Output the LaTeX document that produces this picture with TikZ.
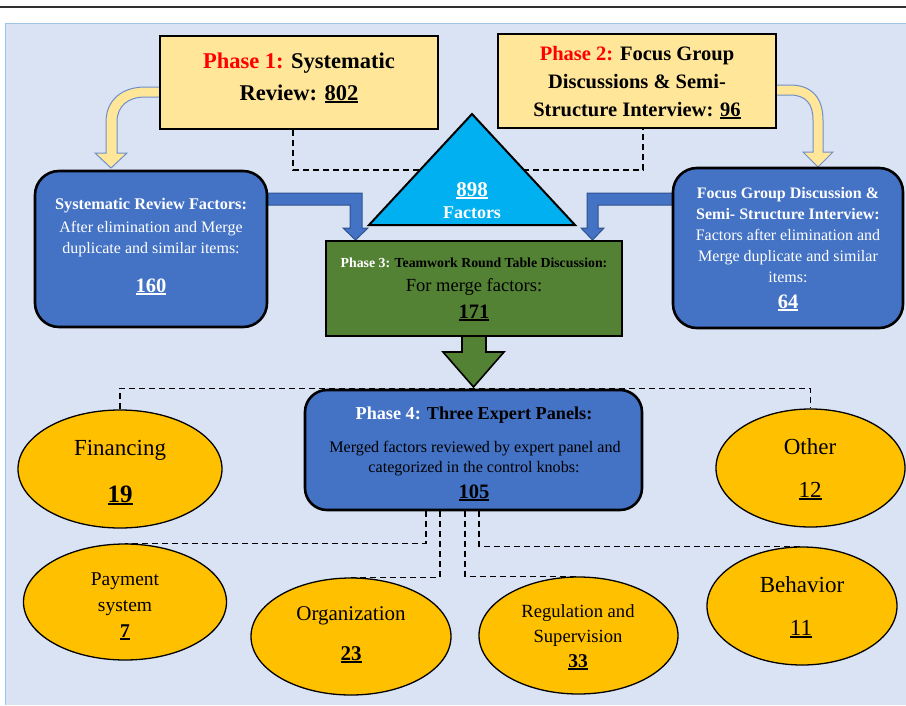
\documentclass[tikz,border=0pt]{standalone}
\usepackage{fontspec}
\setmainfont{Liberation Serif}
\usetikzlibrary{shapes.geometric}
\definecolor{bgc}{HTML}{DAE3F3}
\definecolor{panelline}{HTML}{9DC3E6}
\definecolor{yel}{HTML}{FFE699}
\definecolor{yelline}{HTML}{6F8FC9}
\definecolor{blu}{HTML}{4472C4}
\definecolor{bluline}{HTML}{2F528F}
\definecolor{cyanc}{HTML}{00B0F0}
\definecolor{grn}{HTML}{548235}
\definecolor{org}{HTML}{FFC000}
\definecolor{topline}{HTML}{303030}
\newcommand{\uln}[1]{\setbox0=\hbox{#1}\leavevmode\rlap{\rule[-0.13em]{\wd0}{0.075em}}\box0}
\newcommand{\fs}[1]{\fontsize{#1}{#1}\selectfont}
\pgfdeclarelayer{bgpanel}
\pgfdeclarelayer{bglines}
\pgfsetlayers{bgpanel,bglines,main}
\begin{document}
\begin{tikzpicture}[x=1pt,y=-1pt,
  ybox/.style={draw=black, line width=1.4pt, fill=yel, inner sep=0pt},
  rbox/.style={draw=black, line width=2.6pt, fill=blu, rounded corners=24pt, inner sep=0pt},
  gbox/.style={draw=black, line width=2.4pt, fill=grn, inner sep=0pt},
  oval/.style={ellipse, draw=black, line width=1.3pt, fill=org, inner sep=0pt},
  tl/.style={anchor=base, inner sep=0pt, outer sep=0pt},
  dline/.style={draw=black, line width=1.6pt, dash pattern=on 6pt off 4pt},
  yarrow/.style={fill=yel, draw=yelline, line width=1pt},
  barrow/.style={fill=blu, draw=bluline, line width=1pt, line join=miter},
  garrow/.style={fill=grn, draw=black, line width=1.6pt, line join=miter}
]
\useasboundingbox (0,0) rectangle (906,705);
\begin{pgfonlayer}{bgpanel}
  \fill[bgc] (5,23) rectangle (906,705);
  \draw[panelline, line width=1pt] (5,705) -- (5,23) -- (906,23);
  \draw[topline, line width=2pt] (0,7) -- (906,7);
\end{pgfonlayer}

% block arrows
\draw[yarrow] (165,87) -- (145,87) .. controls (122,87) and (106,100) .. (106,122) -- (106,153) -- (95,153) -- (111,168) -- (127,153) -- (117,153) -- (117,122) .. controls (117,106) and (128,97) .. (145,97) -- (165,97) -- cycle;
\draw[yarrow] (770,85) -- (790,85) .. controls (812,85) and (823,98) .. (823,120) -- (823,152) -- (833,152) -- (818,167) -- (803,152) -- (813,152) -- (813,120) .. controls (813,104) and (806,95) .. (790,95) -- (770,95) -- cycle;
\draw[barrow] (258,193) -- (362,193) -- (362,228) -- (368,228) -- (355.5,240) -- (343,228) -- (350,228) -- (350,205) -- (258,205) -- cycle;
\draw[barrow] (682,193) -- (587,193) -- (587,228) -- (581,228) -- (592.5,240) -- (604,228) -- (598,228) -- (598,205) -- (682,205) -- cycle;
\draw[garrow] (462,330) -- (462,352) -- (443,352) -- (473.5,387) -- (504,352) -- (486,352) -- (486,330);

% boxes
\node[ybox, minimum width=278pt, minimum height=93pt] (p1) at (299,82.5) {};
\node[ybox, minimum width=278pt, minimum height=94pt] (p2) at (637,81) {};
\draw[fill=cyanc, line width=2pt, line join=miter] (472,114) -- (575,225) -- (369,225) -- cycle;
\node[rbox, minimum width=232pt, minimum height=156pt] (sr) at (151,249) {};
\node[rbox, minimum width=230pt, minimum height=160pt] (fg) at (788,248) {};
\node[gbox, minimum width=296pt, minimum height=95pt] (p3) at (474,288.5) {};
\node[rbox, rounded corners=22pt, minimum width=337pt, minimum height=120pt] (p4) at (473.5,450) {};

\node[oval, minimum width=204pt, minimum height=118pt] (fin) at (120,469) {};
\node[oval, minimum width=189pt, minimum height=118pt] (oth) at (810.5,468) {};
\node[oval, minimum width=203pt, minimum height=116pt] (pay) at (125,602) {};
\node[oval, minimum width=200pt, minimum height=117pt] (orgn) at (351,636.5) {};
\node[oval, minimum width=199pt, minimum height=117pt] (reg) at (578.5,635.5) {};
\node[oval, minimum width=190pt, minimum height=118pt] (beh) at (802,606) {};

% dashed connectors
\begin{pgfonlayer}{bglines}
  \draw[dline] (p1.south -| 293,0) -- ++(0,40) -| (p2.south -| 643,0);
  \draw[dline] (fin.north) -- ++(0,-21) -| (oth.north);
  \draw[dline] (p4.south -| 426,0) |- (pay.north);
  \draw[dline] (p4.south -| 440,0) |- (orgn.north);
  \draw[dline] (p4.south -| 465,0) |- (reg.north);
  \draw[dline] (p4.south -| 479,0) |- (beh.north);
\end{pgfonlayer}

% texts
\node[tl, font=\fs{22.5}\bfseries] (p1a) at (299,68) {{\color{red}Phase 1:} Systematic};
\node[tl, font=\fs{22.5}\bfseries] (p1b) at (299,100) {Review: \uln{802}};

\node[tl, font=\fs{20.5}\bfseries] (p2a) at (637,60) {{\color{red}Phase 2:} Focus Group};
\node[tl, font=\fs{20.5}\bfseries] (p2b) at (637,88) {Discussions \& Semi-};
\node[tl, font=\fs{20.5}\bfseries] (p2c) at (637,116) {Structure Interview: \uln{96}};

\node[tl, font=\fs{21}\bfseries, white] (tra) at (472,196) {\uln{898}};
\node[tl, font=\fs{18}\bfseries, white] (trb) at (472,218) {Factors};

\node[tl, font=\fs{16.3}\bfseries, white] (sra) at (151,209) {Systematic Review Factors:};
\node[tl, font=\fs{16}, white] (srb) at (151,232) {After elimination and Merge};
\node[tl, font=\fs{16}, white] (src) at (151,253) {duplicate and similar items:};
\node[tl, font=\fs{20.5}\bfseries, white] (srd) at (151,292) {\uln{160}};

\node[tl, font=\fs{16}\bfseries, white] (fga) at (788,198) {Focus Group Discussion \&};
\node[tl, font=\fs{16}\bfseries, white] (fgb) at (788,219) {Semi- Structure Interview:};
\node[tl, font=\fs{16}, white] (fgc) at (788,240) {Factors after elimination and};
\node[tl, font=\fs{16}, white] (fgd) at (788,261) {Merge duplicate and similar};
\node[tl, font=\fs{16}, white] (fge) at (788,282) {items:};
\node[tl, font=\fs{20.5}\bfseries, white] (fgf) at (788,308) {\uln{64}};

\node[tl, font=\fs{13.8}\bfseries] (p3a) at (474,267) {{\color{white}Phase 3:} Teamwork Round Table Discussion:};
\node[tl, font=\fs{18.5}] (p3b) at (474,291) {For merge factors:};
\node[tl, font=\fs{20.5}\bfseries] (p3c) at (474,318) {\uln{171}};

\node[tl, font=\fs{18.2}\bfseries] (p4a) at (474,419) {{\color{white}Phase 4:} Three Expert Panels:};
\node[tl, font=\fs{16.1}] (p4b) at (475,452) {Merged factors reviewed by expert panel and};
\node[tl, font=\fs{16.1}] (p4c) at (474,472) {categorized in the control knobs:};
\node[tl, font=\fs{20.5}\bfseries] (p4d) at (474,498) {\uln{105}};

\node[tl, font=\fs{23}] (fina) at (120,455) {Financing};
\node[tl, font=\fs{25}\bfseries] (finb) at (120,502) {\uln{19}};
\node[tl, font=\fs{23}] (otha) at (810,454) {Other};
\node[tl, font=\fs{23}] (othb) at (810,497) {\uln{12}};
\node[tl, font=\fs{19.5}] (paya) at (125,585) {Payment};
\node[tl, font=\fs{19.5}] (payb) at (125,611) {system};
\node[tl, font=\fs{19.5}\bfseries] (payc) at (125,637) {\uln{7}};
\node[tl, font=\fs{21}] (orga) at (351,620) {Organization};
\node[tl, font=\fs{21}\bfseries] (orgb) at (351,660) {\uln{23}};
\node[tl, font=\fs{18.6}] (rega) at (578,617) {Regulation and};
\node[tl, font=\fs{18.6}] (regb) at (578,642) {Supervision};
\node[tl, font=\fs{19.5}\bfseries] (regc) at (578,667) {\uln{33}};
\node[tl, font=\fs{23}] (beha) at (802,592) {Behavior};
\node[tl, font=\fs{23}] (behb) at (801,635) {\uln{11}};
\end{tikzpicture}
\end{document}
